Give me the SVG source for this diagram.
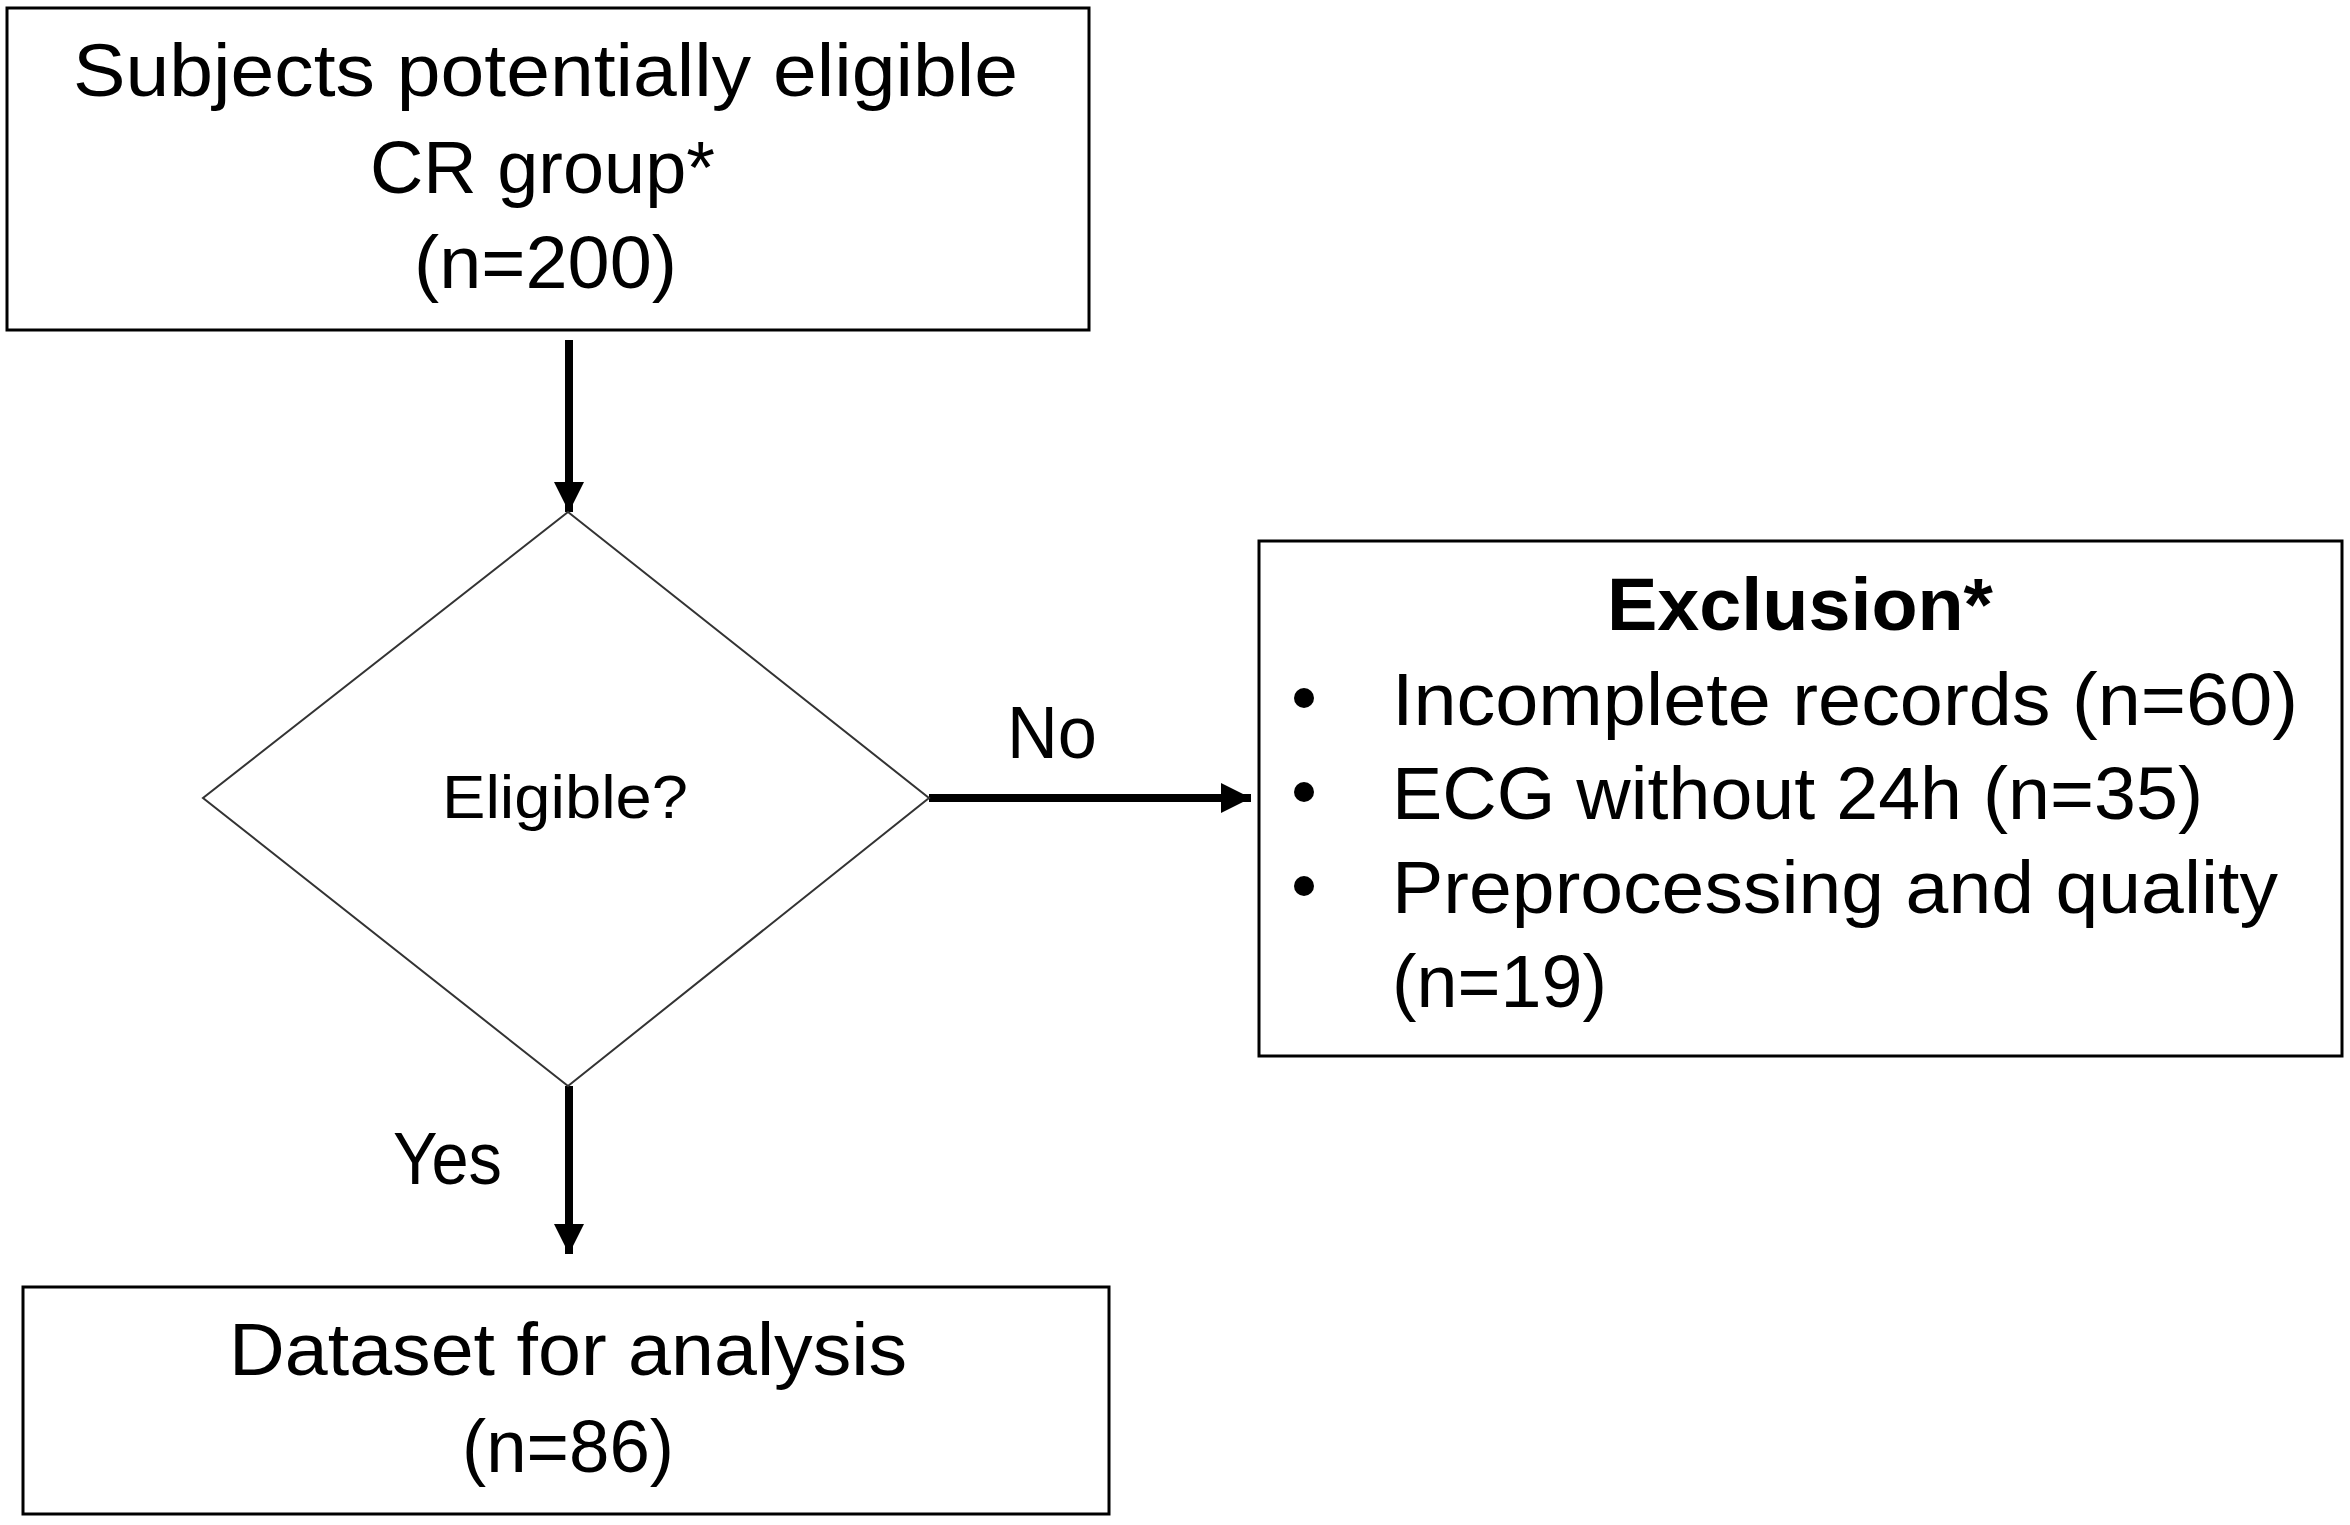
<svg xmlns="http://www.w3.org/2000/svg" width="2350" height="1525" viewBox="0 0 2350 1525">
<defs>
<style>
.box{fill:#fff;stroke:#000;stroke-width:3}
.dia{fill:#fff;stroke:#333;stroke-width:2}
.t{font-family:"Liberation Sans",Arial,sans-serif;font-size:74px;fill:#000}
.b{font-weight:bold}
.s{font-size:62px}
.conn{stroke:#000;stroke-width:8;fill:none}
</style>
<marker id="ah" markerUnits="userSpaceOnUse" markerWidth="32" markerHeight="30" refX="30" refY="15" orient="auto">
<path d="M0,0 L30,15 L0,30 Z" fill="#000"/>
</marker>
</defs>
<rect width="2350" height="1525" fill="#fff"/>
<g id="connectors">
<line class="conn" x1="569" y1="340" x2="569" y2="512" marker-end="url(#ah)"/>
<line class="conn" x1="929" y1="798" x2="1251" y2="798" marker-end="url(#ah)"/>
<line class="conn" x1="569" y1="1086" x2="569" y2="1254" marker-end="url(#ah)"/>
<text class="t" x="1007" y="758" textLength="90" lengthAdjust="spacingAndGlyphs">No</text>
<text class="t" x="393" y="1184" textLength="109" lengthAdjust="spacingAndGlyphs">Yes</text>
</g>
<g id="node-subjects">
<rect class="box" x="7" y="8" width="1082" height="322"/>
<text class="t" x="73" y="96" textLength="945" lengthAdjust="spacingAndGlyphs">Subjects potentially eligible</text>
<text class="t" x="370" y="193" textLength="345" lengthAdjust="spacingAndGlyphs">CR group*</text>
<text class="t" x="414" y="288" textLength="263" lengthAdjust="spacingAndGlyphs">(n=200)</text>
</g>
<g id="node-eligible">
<polygon class="dia" points="568,512 929,798 568,1086 203,798"/>
<text class="t s" x="442" y="818" textLength="246" lengthAdjust="spacingAndGlyphs">Eligible?</text>
</g>
<g id="node-exclusion">
<rect class="box" x="1259" y="541" width="1083" height="515"/>
<text class="t b" x="1607" y="630" textLength="386" lengthAdjust="spacingAndGlyphs">Exclusion*</text>
<circle cx="1304" cy="698" r="10"/>
<circle cx="1304" cy="792" r="10"/>
<circle cx="1304" cy="886" r="10"/>
<text class="t" x="1392" y="725" textLength="906" lengthAdjust="spacingAndGlyphs">Incomplete records (n=60)</text>
<text class="t" x="1392" y="819" textLength="811" lengthAdjust="spacingAndGlyphs">ECG without 24h (n=35)</text>
<text class="t" x="1392" y="913" textLength="886" lengthAdjust="spacingAndGlyphs">Preprocessing and quality</text>
<text class="t" x="1392" y="1007" textLength="215" lengthAdjust="spacingAndGlyphs">(n=19)</text>
</g>
<g id="node-dataset">
<rect class="box" x="23" y="1287" width="1086" height="227"/>
<text class="t" x="229" y="1375" textLength="678" lengthAdjust="spacingAndGlyphs">Dataset for analysis</text>
<text class="t" x="462" y="1472" textLength="212" lengthAdjust="spacingAndGlyphs">(n=86)</text>
</g>
</svg>
